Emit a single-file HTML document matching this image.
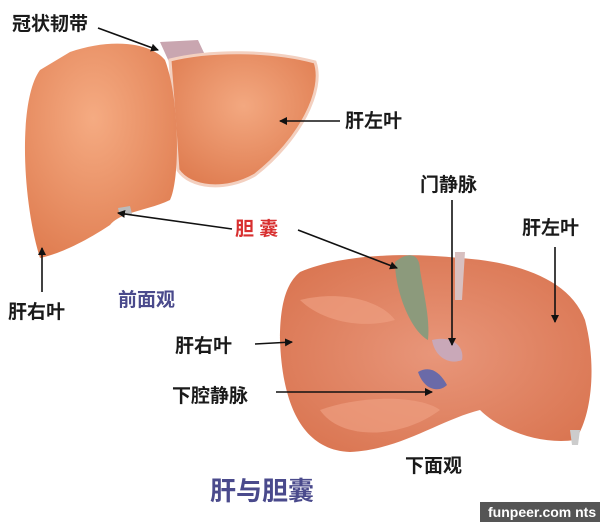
<!DOCTYPE html>
<html><head><meta charset="utf-8"><style>
html,body{margin:0;padding:0;background:#fff;}
svg{display:block;}
text{font-family:"Liberation Sans","Noto Sans CJK SC",sans-serif;font-weight:600;}
</style></head><body>
<svg width="600" height="522" viewBox="0 0 600 522" xmlns="http://www.w3.org/2000/svg">
<defs>
<radialGradient id="g1" cx="0.45" cy="0.35" r="0.7"><stop offset="0" stop-color="#f5ab82"/><stop offset="1" stop-color="#e07e52"/></radialGradient>
<radialGradient id="g2" cx="0.5" cy="0.4" r="0.7"><stop offset="0" stop-color="#f3a880"/><stop offset="1" stop-color="#de7a4e"/></radialGradient>
<radialGradient id="g3" cx="0.5" cy="0.5" r="0.7"><stop offset="0" stop-color="#e8967a"/><stop offset="1" stop-color="#d8714c"/></radialGradient>
<marker id="ah" markerWidth="8" markerHeight="8" refX="7" refY="4" orient="auto" markerUnits="userSpaceOnUse"><path d="M0,0 L8,4 L0,8 z" fill="#111"/></marker>
</defs>
<path d="M160,42 L198,40 L205,55 L175,75 Z" fill="#c9a6b0"/>
<path d="M170,60 C210,50 270,50 315,62 C325,90 300,140 255,175 C225,192 190,188 178,170 Z" fill="url(#g2)" stroke="#f3d0c0" stroke-width="3"/>
<path d="M70,52 C110,38 150,42 165,60 C180,100 180,180 170,200 C150,210 120,212 110,225 C80,245 55,255 40,258 C22,200 18,100 40,70 Z" fill="url(#g1)"/>
<path d="M118,208 L130,206 L132,214 L120,216 Z" fill="#bbb"/>
<path d="M300,272 C340,255 400,252 460,258 C520,262 570,280 585,320 C598,370 590,420 575,440 C540,445 500,430 480,410 C440,420 400,450 350,452 C300,450 282,400 280,340 C280,300 288,282 300,272 Z" fill="url(#g3)"/>
<path d="M300,300 C340,290 380,300 395,320 C360,330 320,320 300,300 Z" fill="#ee9e80" opacity="0.7"/>
<path d="M320,410 C360,395 420,395 440,410 C400,440 340,440 320,410 Z" fill="#ee9e80" opacity="0.7"/>
<path d="M395,262 C410,250 420,255 420,270 C425,300 430,320 428,340 C410,330 395,290 395,262 Z" fill="#8c9a7c"/>
<path d="M455,252 L465,252 L462,300 L455,300 Z" fill="#d8c0c0"/>
<path d="M432,340 C450,335 465,345 462,360 C450,365 435,358 432,340 Z" fill="#c9a8b8"/>
<path d="M418,372 C430,365 440,372 447,385 C440,392 425,392 418,372 Z" fill="#6a6aa8"/>
<path d="M570,430 L580,430 L578,445 L572,445 Z" fill="#ccc"/>
<g stroke="#111" stroke-width="1.6" fill="none">
<line x1="98" y1="28" x2="158" y2="50" marker-end="url(#ah)"/>
<line x1="340" y1="121" x2="280" y2="121" marker-end="url(#ah)"/>
<line x1="232" y1="229" x2="118" y2="213" marker-end="url(#ah)"/>
<line x1="298" y1="230" x2="397" y2="268" marker-end="url(#ah)"/>
<line x1="452" y1="200" x2="452" y2="345" marker-end="url(#ah)"/>
<line x1="555" y1="247" x2="555" y2="322" marker-end="url(#ah)"/>
<line x1="42" y1="292" x2="42" y2="248" marker-end="url(#ah)"/>
<line x1="255" y1="344" x2="292" y2="342" marker-end="url(#ah)"/>
<line x1="276" y1="392" x2="432" y2="392" marker-end="url(#ah)"/>
</g>
<g fill="#1a1a1a" font-size="19">
<text x="12" y="30">冠状韧带</text>
<text x="345" y="127">肝左叶</text>
<text x="420" y="191">门静脉</text>
<text x="522" y="234">肝左叶</text>
<text x="8" y="318">肝右叶</text>
<text x="175" y="352">肝右叶</text>
<text x="172" y="402">下腔静脉</text>
<text x="405" y="472">下面观</text>
</g>
<text x="235" y="235" font-size="19" fill="#d83030">胆 囊</text>
<text x="118" y="306" font-size="19" fill="#4a4a8c">前面观</text>
<text x="210" y="500" font-size="26" fill="#4a4a8c">肝与胆囊</text>
<rect x="480" y="502" width="120" height="20" fill="#555"/>
<text x="488" y="517" font-size="14" fill="#fff">funpeer.com nts</text>
</svg>
</body></html>
